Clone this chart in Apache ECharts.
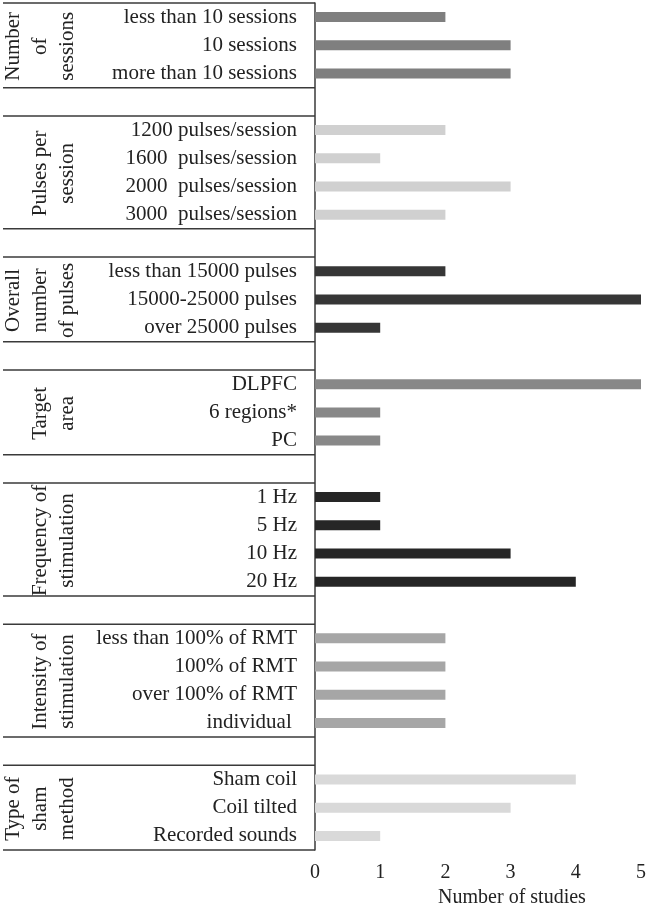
<!DOCTYPE html>
<html>
<head>
<meta charset="utf-8">
<script src="https://cdn.jsdelivr.net/npm/echarts@6/dist/echarts.min.js"></script>
<style>
html,body{margin:0;padding:0;background:#fff;}
#chart{width:649px;height:915px;}
</style>
</head>
<body>
<div id="chart"></div>
<script>
// ---- data ----
const groupTitles = ['Number\nof\nsessions', 'Pulses per\nsession', 'Overall\nnumber\nof pulses', 'Target\narea', 'Frequency of\nstimulation', 'Intensity of\nstimulation', 'Type of\nsham\nmethod'];

const sessionsCats = ['less than 10 sessions', '10 sessions', 'more than 10 sessions'];
const sessionsVals = [2, 3, 3];

const pulsesCats = ['1200 pulses/session', '1600  pulses/session', '2000  pulses/session', '3000  pulses/session'];
const pulsesVals = [2, 1, 3, 2];

const overallCats = ['less than 15000 pulses', '15000-25000 pulses', 'over 25000 pulses'];
const overallVals = [2, 5, 1];

const targetCats = ['DLPFC', '6 regions*', 'PC'];
const targetVals = [5, 1, 1];

const freqCats = ['1 Hz', '5 Hz', '10 Hz', '20 Hz'];
const freqVals = [1, 1, 3, 4];

const intensityCats = ['less than 100% of RMT', '100% of RMT', 'over 100% of RMT', 'individual '];
const intensityVals = [2, 2, 2, 2];

const shamCats = ['Sham coil', 'Coil tilted', 'Recorded sounds'];
const shamVals = [4, 3, 1];

const xTicks = [0, 1, 2, 3, 4, 5];
const xName = 'Number of studies';

// ---- styles ----
const groupColors = ['#7f7f7f', '#d0d0d0', '#363636', '#888888', '#262626', '#a6a6a6', '#d9d9d9'];
const FONT = 'Liberation Serif';
const FS = 20;
const FSL = 21;
const LINE = '#3a3a3a';

const groups = [
  [sessionsCats, sessionsVals], [pulsesCats, pulsesVals], [overallCats, overallVals],
  [targetCats, targetVals], [freqCats, freqVals], [intensityCats, intensityVals], [shamCats, shamVals]
];

const categories = [];
const barData = [];
const groupRanges = [];
groups.forEach((g, gi) => {
  const start = categories.length;
  g[0].forEach((c, i) => {
    categories.push(c);
    barData.push({ value: g[1][i], itemStyle: { color: groupColors[gi] } });
  });
  groupRanges.push([start, categories.length - 1]);
  if (gi < groups.length - 1) {
    categories.push(' '.repeat(gi + 1) + '\u200b');
    barData.push(null);
  }
});

const chart = echarts.init(document.getElementById('chart'), null, { renderer: 'canvas' });
chart.setOption({
  animation: false,
  textStyle: { fontFamily: FONT },
  grid: { left: 315, right: 6, top: 3, bottom: 65, containLabel: false },
  xAxis: {
    type: 'value', min: xTicks[0], max: xTicks[xTicks.length - 1], interval: 1,
    axisLine: { show: false }, axisTick: { show: false }, splitLine: { show: false },
    axisLabel: { fontFamily: FONT, fontSize: FS, color: '#222', margin: 13 },
    name: xName, nameLocation: 'middle', nameGap: 36,
    nameTextStyle: { fontFamily: FONT, fontSize: FS, color: '#222', padding: [0, 0, 0, 68] }
  },
  yAxis: {
    type: 'category', inverse: true, data: categories,
    axisLine: { show: true, lineStyle: { color: LINE, width: 1.5 } },
    axisTick: { show: false },
    axisLabel: { fontFamily: FONT, fontSize: FSL, color: '#222', margin: 18, interval: 0 }
  },
  series: [{
    type: 'bar', data: barData, barWidth: 10, silent: true
  }]
});

// ---- table lines and group labels ----
const y0 = chart.convertToPixel({ yAxisIndex: 0 }, 0);
const y1 = chart.convertToPixel({ yAxisIndex: 0 }, 1);
const half = (y1 - y0) / 2;
const axisX = chart.convertToPixel({ xAxisIndex: 0 }, 0);
const leftX = 3;
const graphics = [];
const hline = (y) => ({
  type: 'line', silent: true,
  shape: { x1: leftX, y1: y, x2: axisX, y2: y },
  style: { stroke: LINE, lineWidth: 1.5 }
});
const LH = 27;
groupRanges.forEach((r, gi) => {
  const top = chart.convertToPixel({ yAxisIndex: 0 }, r[0]) - half;
  const bot = chart.convertToPixel({ yAxisIndex: 0 }, r[1]) + half;
  graphics.push(hline(top));
  graphics.push(hline(bot));
  const n = groupTitles[gi].split('\n').length;
  graphics.push({
    type: 'text', silent: true,
    x: 67 - (n - 1) * LH / 2, y: (top + bot) / 2 + 1, rotation: Math.PI / 2,
    style: {
      text: groupTitles[gi], fontFamily: FONT, fontSize: FSL, fill: '#222',
      align: 'center', verticalAlign: 'middle', lineHeight: LH
    }
  });
});
chart.setOption({ graphic: graphics });
</script>
</body>
</html>
